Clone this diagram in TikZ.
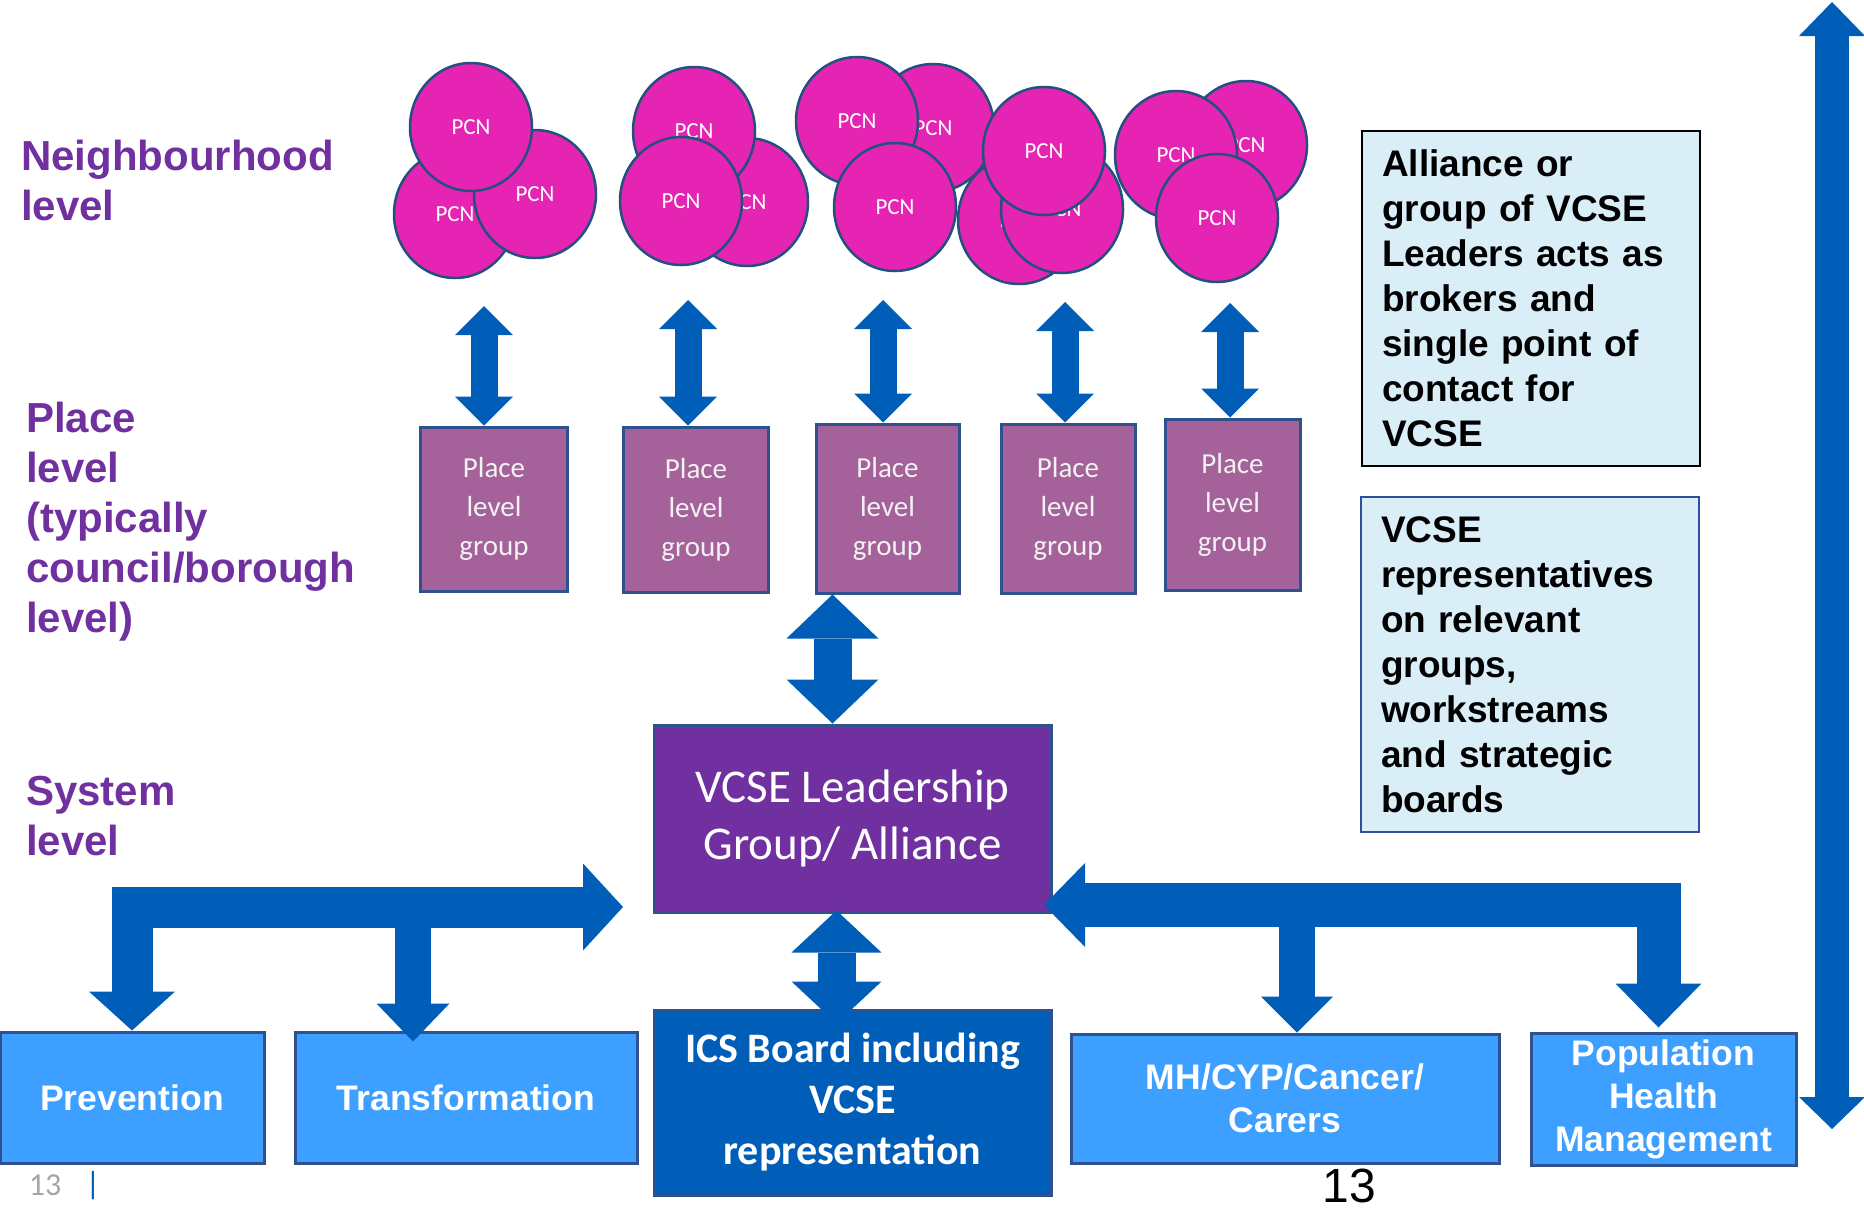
\documentclass[tikz,border=0pt]{standalone}
\usepackage{fontspec}
\setmainfont{Carlito}
\newfontfamily\arialfont{Liberation Sans}
\usepackage{xcolor}
\usepackage{tikz}
\usetikzlibrary{shapes.geometric, arrows.meta, positioning, calc}
\definecolor{pcnpink}{HTML}{E624B4}
\definecolor{pcnline}{HTML}{24507E}
\definecolor{placemauve}{HTML}{A5629A}
\definecolor{placetext}{HTML}{F2F2F2}
\definecolor{boxline}{HTML}{2F528F}
\definecolor{levelpurple}{HTML}{7030A0}
\definecolor{nhsblue}{HTML}{005EB8}
\definecolor{lightblue}{HTML}{3D9FFF}
\definecolor{paleblue}{HTML}{DAEEF8}
\definecolor{repline}{HTML}{2F4E9E}
\tikzstyle{pcn} = [ellipse, draw=pcnline, line width=2.5pt, fill=pcnpink, minimum width=122pt, minimum height=128pt, inner sep=0pt, text=white, font=\fontsize{23}{27}\selectfont]
\tikzstyle{placebox} = [rectangle, draw=boxline, line width=3pt, fill=placemauve, text=placetext, align=center, font=\fontsize{29}{39}\selectfont]
\tikzstyle{levellabel} = [anchor=west, align=left, inner sep=0pt, text=levelpurple, font=\arialfont\bfseries\fontsize{42}{50}\selectfont]
\tikzstyle{leadbox} = [rectangle, draw=boxline, line width=3pt, fill=levelpurple, text=white, align=center, minimum width=397pt, minimum height=187pt, font=\fontsize{47}{57}\selectfont]
\tikzstyle{icsbox} = [rectangle, draw=boxline, line width=3pt, fill=nhsblue, text=white, align=center, minimum width=397pt, minimum height=185pt, font=\bfseries\fontsize{42}{51}\selectfont]
\tikzstyle{workbox} = [rectangle, draw=boxline, line width=3pt, fill=lightblue, text=white, align=center, font=\arialfont\bfseries\fontsize{35.5}{43}\selectfont]
\tikzstyle{infobox} = [rectangle, line width=2pt, fill=paleblue, text=black, align=left, text width=298pt, inner xsep=20pt, minimum height=335pt, font=\arialfont\bfseries\fontsize{37}{45}\selectfont]
\tikzstyle{blockarrow} = [draw=nhsblue, line join=miter]
\tikzstyle{dblarrow} = [blockarrow, line width=27pt, {Triangle[width=58pt,length=29pt,line width=0pt]}-{Triangle[width=58pt,length=29pt,line width=0pt]}]
\begin{document}
\begin{tikzpicture}[x=1pt, y=-1pt]
    \useasboundingbox (0,0) rectangle (1864,1211);

    % neighbourhood level: PCN clusters, back to front
    \foreach \n/\x/\y in {1a/455/214, 1b/535/194, 1c/471/127,
                          2a/747/202, 2b/694/131, 2c/681/201,
                          3a/933/128, 3b/857/121, 3c/895/207,
                          4a/1019/220, 4b/1062/209, 4c/1044/151,
                          5a/1246/145, 5b/1176/155, 5c/1217/218}
        \node (pcn\n) [pcn] at (\x,\y) {PCN};

    % place level groups
    \foreach \i/\x/\y/\w/\h in {1/494/509/147/164, 2/696/509.5/145/165, 3/887.5/508.5/143/169, 4/1068/508.5/134/169, 5/1232.5/504.5/135/171}
        \node (pl\i) [placebox, minimum width=\w pt, minimum height=\h pt] at (\x,\y) {Place\\level\\group};

    \foreach \i/\x/\y in {1/484/306, 2/688/300, 3/883/300, 4/1065/302, 5/1230/303} {
        \coordinate (top\i) at (\x,\y);
        \draw [dblarrow] (top\i) -- (top\i |- pl\i.north);
    }

    % level labels
    \node (nlevel) [levellabel] at (21,180) {Neighbourhood\\level};
    \node (plevel) [levellabel] at (26,522) {Place\\level\\(typically\\council/borough\\level)};
    \node (slevel) [levellabel] at (26,816) {System\\level};

    % system level
    \node (leader) [leadbox] at (852.5,818.5) {\rule{0pt}{10pt}VCSE Leadership\\Group/ Alliance};
    \node (ics) [icsbox] at (852.5,1102.5) {\rule{0pt}{10pt}ICS Board including\\VCSE\\representation};
    \node (prev) [workbox, minimum width=264pt, minimum height=131pt] at (132,1097.5) {Prevention};
    \node (trans) [workbox, minimum width=342pt, minimum height=131pt] at (466,1097.5) {Transformation};
    \node (mh) [workbox, minimum width=428pt, minimum height=129pt] at (1285,1098.5) {MH/CYP/Cancer/\\Carers};
    \node (pop) [workbox, minimum width=265pt, minimum height=132pt] at (1663.5,1099) {\rule{0pt}{10pt}Population\\Health\\Management};

    % left branch
    \coordinate (ltip) at (623,907);
    \coordinate (lmid) at (413,907);
    \draw [blockarrow, line width=41pt, {Triangle[width=86pt,length=39pt,line width=0pt]}-{Triangle[width=87pt,length=40pt,line width=0pt]}] (prev.north) |- (ltip);
    \draw [blockarrow, line width=36pt, -{Triangle[width=73pt,length=38pt,line width=0pt]}] (lmid) -- ($(lmid |- trans.north)+(0,11)$);

    % right branch
    \coordinate (rtip) at (1044,905);
    \coordinate (rmid) at (1297,905);
    \draw [blockarrow, line width=44pt, {Triangle[width=84pt,length=41pt,line width=0pt]}-{Triangle[width=86pt,length=44pt,line width=0pt]}] (rtip) -| ($(pop.north)+(-5,-4)$);
    \draw [blockarrow, line width=36pt, -{Triangle[width=72pt,length=36pt,line width=0pt]}] (rmid) -- (rmid |- mh.north);

    % place <-> system <-> ICS
    \coordinate (lc) at ($(leader.north)+(-20,0)$);
    \coordinate (lb) at ($(leader.south)+(-16,-3)$);
    \draw [blockarrow, line width=38pt, {Triangle[width=92pt,length=44pt,line width=0pt]}-{Triangle[width=92pt,length=44pt,line width=0pt]}] (lc) -- (lc |- pl3.south);
    \draw [blockarrow, line width=38pt, {Triangle[width=90pt,length=42pt,line width=0pt]}-{Triangle[width=90pt,length=42pt,line width=0pt]}] (lb) -- ($(lb |- ics.north)+(0,15)$);

    % notes on the right
    \node (alliance) [infobox, draw=black] at (1531,298.5) {Alliance or\\group of VCSE\\Leaders acts as\\brokers and\\single point of\\contact for\\VCSE};
    \node (reps) [infobox, draw=repline] at (1530,664.5) {VCSE\\representatives\\on relevant\\groups,\\workstreams\\and strategic\\boards};

    \coordinate (vtop) at (1832,2);
    \coordinate (vbot) at (1832,1129);
    \draw [blockarrow, line width=34pt, {Triangle[width=66pt,length=34pt,line width=0pt]}-{Triangle[width=66pt,length=32pt,line width=0pt]}] (vtop) -- (vbot);

    % page numbers
    \node (pagenum) [text=gray!70, font=\fontsize{32}{34}\selectfont] at (45,1185) {13};
    \node (pagebar) [text=nhsblue, font=\fontsize{32}{34}\selectfont] at (93,1186) {|};
    \node (slidenum) [font=\arialfont\fontsize{48}{50}\selectfont] at (1349,1186) {13};
\end{tikzpicture}
\end{document}
